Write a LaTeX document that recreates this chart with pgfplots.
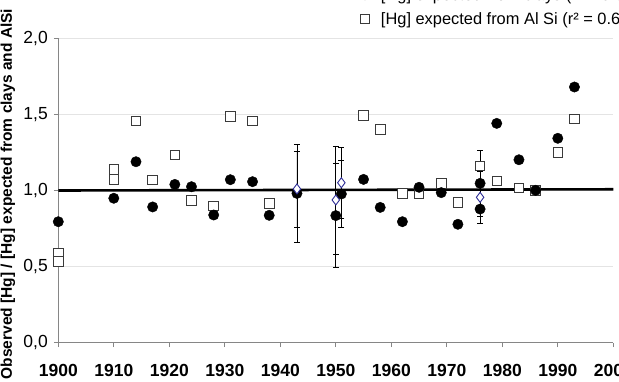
\documentclass[border=0pt]{standalone}
\usepackage{pgfplots}
\usepackage{pgfplotstable}
\pgfplotsset{compat=1.18}
\usepackage{fontspec}
\setmainfont{Liberation Sans}

\definecolor{axisgray}{HTML}{868686}
\definecolor{gridgray}{HTML}{E4E4E4}
\definecolor{sqgray}{HTML}{3A3A3A}
\definecolor{dianavy}{HTML}{2E2E96}

% Observed / expected ratio, clay-based estimate
\pgfplotstableread{
year val
1900 0.795
1910 0.949
1914 1.189
1917 0.892
1921 1.040
1924 1.025
1928 0.839
1931 1.071
1935 1.058
1938 0.837
1955 1.073
1958 0.889
1962 0.795
1965 1.021
1969 0.986
1972 0.778
1976 0.878
1979 1.441
1983 1.202
1986 1.001
1990 1.343
1993 1.680
}\clays

% clay-based points with uncertainty
\pgfplotstableread{
year val err
1943 0.981 0.320
1950 0.835 0.340
1951 0.977 0.220
1976 1.047 0.214
}\claysErr

% Observed / expected ratio, Al-Si-based estimate
\pgfplotstableread{
year val
1900 0.587
1900 0.532
1910 1.139
1910 1.073
1914 1.457
1917 1.069
1921 1.233
1924 0.933
1928 0.898
1931 1.487
1935 1.457
1938 0.916
1955 1.492
1958 1.402
1962 0.979
1965 0.979
1969 1.047
1972 0.920
1976 1.161
1979 1.062
1983 1.018
1986 1.001
1990 1.251
1993 1.470
}\alsi

% dated reference samples
\pgfplotstableread{
year val err
1943 1.010 0.250
1950 0.938 0.355
1951 1.051 0.233
1976 0.955 0.170
}\refs

\begin{document}
\begin{tikzpicture}
\useasboundingbox (-58.3bp,-39.3bp) rectangle (560.7bp,342.7bp);
\clip (-58.3bp,-39.3bp) rectangle (560.7bp,342.7bp);
\begin{axis}[
  at={(0,0)}, anchor=south west,
  scale only axis, width=555bp, height=304.4bp,
  xmin=1900, xmax=2000, ymin=0, ymax=2,
  clip=false,
  axis lines=left,
  axis line style={-, draw=axisgray, line width=1bp},
  xtick={1900,1910,1920,1930,1940,1950,1960,1970,1980,1990,2000},
  xticklabels={1900,1910,1920,1930,1940,1950,1960,1970,1980,1990,2000},
  ytick={0,0.5,1,1.5,2},
  yticklabels={{0,0},{0,5},{1,0},{1,5},{2,0}},
  xticklabel style={font=\fontsize{17.5bp}{17.5bp}\selectfont\bfseries, yshift=-14bp},
  yticklabel style={font=\fontsize{17.5bp}{17.5bp}\selectfont, xshift=-2.5bp},
  tick align=outside, major tick length=4.5bp,
  tick style={draw=axisgray, line width=0.8bp},
  ymajorgrids, grid style={draw=gridgray, line width=0.8bp},
  ylabel={Observed [Hg] / [Hg] expected from clays and AlSi},
  ylabel style={font=\fontsize{15.5bp}{15.5bp}\selectfont\bfseries,
    at={(axis description cs:-0.0906,0.4885)}, anchor=center},
  legend style={at={(axis description cs:0.5436,1.0339)}, anchor=south west,
    draw=none, fill=none, inner sep=0pt, outer sep=0pt,
    font=\fontsize{16.4bp}{16.4bp}\selectfont, row sep=7bp, column sep=9bp},
  legend cell align=left,
  legend image code/.code={\draw[mark repeat=2,mark phase=2,#1]
    plot coordinates {(0bp,0bp) (4bp,0bp) (20bp,0bp)};},
  error bars/y dir=both, error bars/y explicit,
  error bars/error mark options={rotate=90, mark size=3bp, black, line width=0.8bp},
  error bars/error bar style={black, line width=0.8bp},
]
\addlegendimage{only marks, mark=*, mark size=5bp, black}
\addlegendentry{[Hg] expected from clays (r² = 0.65)}
\addlegendimage{only marks, mark=square*, mark size=4.6bp, draw=sqgray, fill=white, line width=0.9bp}
\addlegendentry{[Hg] expected from Al Si (r² = 0.61)}

% unit ratio line
\addplot[black, line width=2.6bp, forget plot] coordinates {(1900,1.0) (2000,1.008)};

\addplot[only marks, mark=square*, mark size=4.8bp, draw=sqgray, fill=white,
  line width=0.9bp, forget plot, error bars/y dir=none] table[x=year, y=val] {\alsi};
\addplot[only marks, mark=*, mark size=5.2bp, black, forget plot,
  error bars/y dir=none] table[x=year, y=val] {\clays};
\addplot[only marks, mark=*, mark size=5.2bp, black, forget plot]
  table[x=year, y=val, y error=err] {\claysErr};
\addplot[only marks, mark=diamond*, mark size=5bp, draw=dianavy, fill=white,
  line width=0.9bp, forget plot]
  table[x=year, y=val, y error=err] {\refs};
\end{axis}
\end{tikzpicture}
\end{document}
